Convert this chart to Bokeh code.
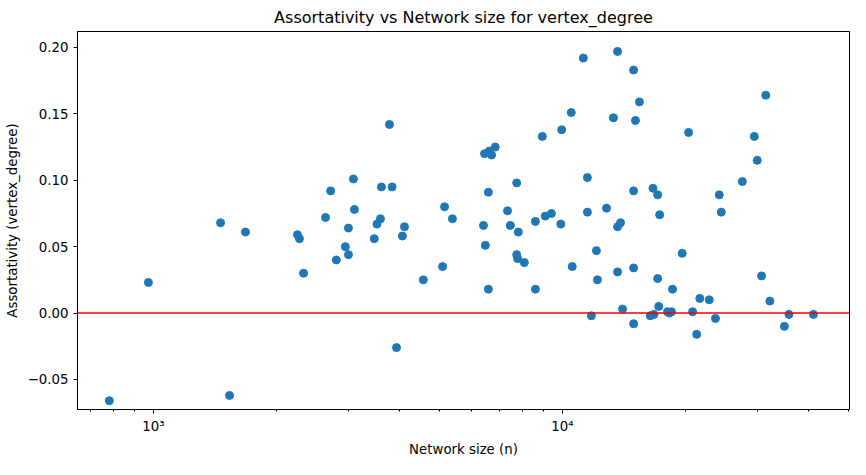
from bokeh.plotting import figure
from bokeh.models import Span, Range1d, FixedTicker
from bokeh.embed import file_html
from bokeh.resources import INLINE

n = [780, 972, 1459, 1535, 1679, 2249, 2275, 2328, 2635, 2712, 2800, 2946, 2998, 2998,
     3083, 3100, 3467, 3520, 3590, 3610, 3776, 3833, 3930, 4061, 4110, 4570, 5093, 5150,
     5383, 6412, 6450, 6480, 6590, 6630, 6590, 6710, 6850, 7340, 7460, 7730, 7730, 7770,
     7800, 8070, 8590, 8590, 8930, 9080, 9400, 9960, 9910, 10510, 10570, 11250, 11510,
     11510, 11770, 12110, 12180, 12820, 13330, 13640, 13640, 13640, 13870, 14030, 14930,
     14930, 14930, 14930, 15090, 15430, 16400, 16650, 16740, 17100, 17100, 17290, 17200,
     18070, 18270, 18480, 18590, 19630, 20350, 20810, 21300, 21670, 22860, 23670, 24190,
     24460, 27540, 29460, 29950, 30690, 31430, 32160, 34900, 35800, 41100]
assort = [-0.066, 0.023, 0.068, -0.062, 0.061, 0.059, 0.056, 0.030, 0.072, 0.092, 0.040,
          0.050, 0.064, 0.044, 0.101, 0.078, 0.056, 0.067, 0.071, 0.095, 0.142, 0.095,
          -0.026, 0.058, 0.065, 0.025, 0.035, 0.080, 0.071, 0.066, 0.120, 0.051, 0.091,
          0.122, 0.018, 0.119, 0.125, 0.077, 0.066, 0.098, 0.044, 0.041, 0.061, 0.038,
          0.018, 0.069, 0.133, 0.073, 0.075, 0.138, 0.067, 0.151, 0.035, 0.192, 0.102,
          0.076, -0.002, 0.047, 0.025, 0.079, 0.147, 0.197, 0.065, 0.031, 0.068, 0.003,
          0.183, 0.092, 0.034, -0.008, 0.145, 0.159, -0.002, 0.094, -0.001, 0.089, 0.026,
          0.074, 0.005, 0.001, 0.000, 0.001, 0.018, 0.045, 0.136, 0.001, -0.016, 0.011,
          0.010, -0.004, 0.089, 0.076, 0.099, 0.133, 0.115, 0.028, 0.164, 0.009, -0.010,
          -0.001, -0.001]

x_major = [1000, 10000]
x_labels = {1000: "10\u00b3", 10000: "10\u2074"}
x_minor = [700, 800, 900, 2000, 3000, 4000, 5000, 6000, 7000, 8000, 9000,
           20000, 30000, 40000, 50000]
y_major = [-0.05, 0.0, 0.05, 0.1, 0.15, 0.2]
y_labels = {-0.05: "\u22120.05", 0.0: "0.00", 0.05: "0.05",
            0.1: "0.10", 0.15: "0.15", 0.2: "0.20"}

p = figure(width=850, height=459, x_axis_type="log", output_backend="svg",
           toolbar_location=None, title="Assortativity vs Network size for vertex_degree",
           x_range=Range1d(652, 50350), y_range=Range1d(-0.0726, 0.212),
           min_border_left=77, min_border_right=1, min_border_top=22, min_border_bottom=50)
p.title.align = "center"
p.title.text_font = "DejaVu Sans"
p.title.text_font_size = "12pt"
p.title.text_font_style = "normal"
p.title.text_color = "black"
p.xgrid.visible = False
p.ygrid.visible = False
p.outline_line_color = "black"
p.xaxis.axis_label = "Network size (n)"
p.yaxis.axis_label = "Assortativity (vertex_degree)"
for ax in (p.xaxis[0], p.yaxis[0]):
    ax.axis_label_text_font = "DejaVu Sans"
    ax.axis_label_text_font_size = "10pt"
    ax.axis_label_text_font_style = "normal"
    ax.axis_label_text_color = "black"
    ax.major_label_text_font = "DejaVu Sans"
    ax.major_label_text_font_size = "10pt"
    ax.major_label_text_color = "black"
    ax.major_tick_out = 4
    ax.major_tick_in = 0
    ax.minor_tick_out = 2
    ax.minor_tick_in = 0
p.xaxis.ticker = FixedTicker(ticks=x_major, minor_ticks=x_minor)
p.xaxis.major_label_overrides = x_labels
p.yaxis.minor_tick_line_color = None
p.yaxis.ticker = y_major
p.yaxis.major_label_overrides = y_labels

p.scatter(n, assort, size=8, color="#1f77b4")
p.add_layout(Span(location=0, dimension="width", line_color="red", line_width=1.5))

open("out.html", "w").write(file_html(p, INLINE))
